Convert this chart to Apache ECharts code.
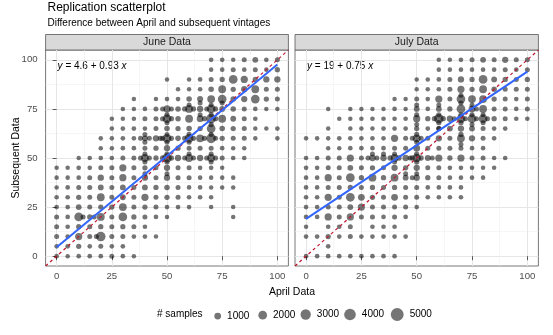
<!DOCTYPE html>
<html>
<head>
<meta charset="utf-8">
<script src="https://cdn.jsdelivr.net/npm/echarts@6/dist/echarts.min.js"></script>
<style>
  html, body { margin: 0; padding: 0; background: #ffffff; }
  #chart { width: 553px; height: 335px; }
</style>
</head>
<body>
<div id="chart"></div>
<script>
// ---- values ----------------------------------------------------------
const panelNames = ['June Data', 'July Data'];
const fitIntercepts = [4.6, 19];
const fitSlopes = [0.93, 0.75];
const majorTicks = [0, 25, 50, 75, 100];
const minorTicks = [12.5, 37.5, 62.5, 87.5];
const legendSamples = [1000, 2000, 3000, 4000, 5000];

// [April value, subsequent value, number of samples]
const juneSamples = [
  [70,100,200],[75,100,200],[80,100,150],[85,100,300],[90,100,600],[95,100,200],[100,100,300],
  [70,95,150],[75,95,200],[80,95,300],[85,95,200],[90,95,300],[95,95,150],[100,95,400],
  [50,90,150],[60,90,150],[65,90,200],[70,90,300],[75,90,400],[80,90,2000],[85,90,1200],[90,90,400],[95,90,800],[100,90,800],
  [55,85,150],[60,85,150],[65,85,200],[70,85,500],[75,85,1500],[80,85,400],[85,85,800],[90,85,1500],[95,85,300],[100,85,300],
  [35,80,150],[45,80,150],[50,80,200],[55,80,200],[60,80,500],[65,80,700],[70,80,1500],[75,80,2000],[80,80,500],[85,80,800],[90,80,2000],[95,80,400],[100,80,300],
  [30,75,150],[35,75,150],[40,75,200],[45,75,300],[50,75,1200],[55,75,500],[60,75,1500],[65,75,800],[70,75,2000],[75,75,600],[80,75,500],[85,75,300],[90,75,200],[95,75,150],[100,75,150],
  [25,70,150],[30,70,150],[35,70,150],[40,70,300],[45,70,300],[50,70,2000],[55,70,500],[60,70,1500],[65,70,1000],[70,70,2500],[75,70,1500],[80,70,600],[85,70,300],[90,70,200],
  [25,65,150],[30,65,200],[35,65,200],[40,65,200],[45,65,300],[50,65,500],[55,65,400],[60,65,500],[65,65,400],[70,65,2000],[75,65,500],[80,65,400],[85,65,300],[90,65,150],[95,65,150],[100,65,200],
  [20,60,150],[25,60,150],[30,60,200],[35,60,200],[40,60,600],[45,60,800],[50,60,2000],[55,60,500],[60,60,2000],[65,60,1500],[70,60,2500],[75,60,400],[80,60,300],[85,60,300],[90,60,150],[100,60,150],
  [20,55,150],[25,55,150],[30,55,200],[35,55,200],[40,55,300],[45,55,400],[50,55,800],[55,55,400],[60,55,300],[65,55,300],[70,55,300],[75,55,200],[80,55,150],[85,55,150],
  [10,50,150],[15,50,150],[20,50,200],[25,50,200],[30,50,300],[35,50,300],[40,50,1500],[45,50,400],[50,50,2500],[55,50,800],[60,50,1500],[65,50,800],[70,50,1500],[75,50,300],[80,50,200],[85,50,200],
  [0,45,150],[5,45,150],[10,45,200],[15,45,200],[20,45,300],[25,45,300],[30,45,1200],[35,45,300],[40,45,400],[45,45,300],[50,45,800],[55,45,300],[60,45,300],[65,45,200],[70,45,200],[75,45,150],
  [0,40,150],[5,40,150],[10,40,200],[15,40,300],[20,40,800],[25,40,300],[30,40,1200],[35,40,300],[40,40,800],[45,40,300],[50,40,800],[55,40,300],[60,40,300],[65,40,200],[70,40,150],[75,40,150],[80,40,150],
  [0,35,150],[5,35,200],[10,35,300],[15,35,300],[20,35,600],[25,35,300],[30,35,600],[35,35,300],[40,35,600],[45,35,400],[50,35,500],[55,35,300],[60,35,200],[65,35,200],[70,35,150],[75,35,150],[80,35,150],
  [0,30,200],[5,30,200],[10,30,400],[15,30,300],[20,30,1500],[25,30,300],[30,30,600],[35,30,300],[40,30,1200],[45,30,300],[50,30,400],[55,30,300],[60,30,200],[65,30,200],[70,30,150],
  [0,25,200],[5,25,200],[10,25,600],[15,25,300],[20,25,400],[25,25,400],[30,25,1500],[35,25,300],[40,25,400],[45,25,300],[50,25,200],[55,25,200],[60,25,200],[70,25,150],[80,25,150],
  [0,20,300],[5,20,200],[10,20,2000],[15,20,400],[20,20,1500],[25,20,300],[30,20,2000],[35,20,400],[40,20,300],[45,20,200],[50,20,150],[80,20,150],
  [0,15,300],[5,15,200],[10,15,400],[15,15,300],[20,15,400],[25,15,300],[30,15,400],[35,15,300],[40,15,200],
  [0,10,300],[5,10,200],[10,10,1200],[15,10,300],[20,10,2500],[25,10,300],[30,10,300],[35,10,200],[40,10,200],[45,10,150],
  [0,5,200],[5,5,200],[10,5,400],[15,5,200],[20,5,300],[25,5,200],[30,5,200],
  [0,0,200],[5,0,150],[10,0,200],[15,0,200],[20,0,200],[25,0,300],[30,0,200],[35,0,150],
  // off-grid responses around the busy cells
  [38,50,350],[42,50,350],[48,50,400],[52,50,400],[50,48,350],[50,52,350],[68,50,350],[72,50,350],[58,50,300],[62,50,300],
  [40,48,300],[40,52,300],[60,52,300],[70,52,300],[70,48,300],
  [48,60,350],[52,60,350],[50,62,300],[50,58,300],[42,60,300],[38,60,300],[47,60,350],[40,58,300],[40,62,300],
  [58,60,350],[62,60,350],[60,62,350],[60,58,300],
  [48,70,350],[52,70,400],[50,72,350],[50,68,300],
  [58,75,350],[62,75,350],[60,77,300],[52,75,300],[48,75,300],
  [67,70,400],[72,70,400],[70,67,350],[70,72,350],[65,72,300],[70,77,300],[72,75,350],[68,75,300],
  [67,60,350],[70,62,300],[72,60,300],
  [40,42,300],[50,42,300],[12,20,300],[17,20,300],[18,10,300],[65,78,300],[75,78,300]
];

const julySamples = [
  [60,100,150],[65,100,150],[70,100,200],[75,100,300],[80,100,600],[85,100,300],[90,100,800],[95,100,300],[100,100,300],
  [60,95,150],[65,95,150],[70,95,200],[75,95,200],[80,95,200],[85,95,200],[90,95,300],[95,95,200],[100,95,300],
  [50,90,150],[55,90,150],[60,90,200],[65,90,300],[70,90,800],[75,90,400],[80,90,2000],[85,90,600],[90,90,400],[95,90,300],[100,90,400],
  [50,85,150],[55,85,150],[60,85,200],[65,85,300],[70,85,1200],[75,85,400],[80,85,1500],[85,85,500],[90,85,300],[95,85,300],[100,85,300],
  [40,80,150],[45,80,150],[50,80,300],[55,80,200],[60,80,1200],[65,80,300],[70,80,2000],[75,80,1500],[80,80,1500],[85,80,400],[90,80,300],[95,80,200],[100,80,300],
  [10,75,150],[20,75,150],[25,75,150],[30,75,150],[35,75,150],[40,75,200],[45,75,150],[50,75,600],[55,75,200],[60,75,600],[65,75,400],[70,75,2000],[75,75,1000],[80,75,1500],[85,75,300],[90,75,300],[95,75,200],[100,75,300],
  [15,70,150],[20,70,150],[25,70,150],[30,70,200],[35,70,200],[40,70,200],[45,70,200],[50,70,1200],[55,70,400],[60,70,2500],[65,70,800],[70,70,2000],[75,70,2000],[80,70,2000],[85,70,400],[90,70,300],[95,70,200],[100,70,200],
  [10,65,150],[20,65,150],[25,65,150],[30,65,150],[35,65,200],[40,65,200],[45,65,200],[50,65,400],[55,65,200],[60,65,400],[65,65,600],[70,65,800],[75,65,600],[80,65,300],[85,65,200],[90,65,200],
  [0,60,150],[5,60,150],[10,60,150],[15,60,200],[20,60,200],[25,60,200],[30,60,200],[35,60,200],[40,60,1200],[45,60,300],[50,60,1500],[55,60,300],[60,60,800],[65,60,300],[70,60,1500],[75,60,800],[80,60,300],[85,60,200],
  [10,55,150],[15,55,150],[20,55,200],[25,55,200],[30,55,200],[35,55,200],[40,55,300],[45,55,300],[50,55,1000],[55,55,300],[60,55,300],[65,55,300],[70,55,300],[75,55,200],[80,55,200],
  [0,50,200],[5,50,200],[10,50,300],[15,50,300],[20,50,1200],[25,50,300],[30,50,800],[35,50,800],[40,50,1500],[45,50,800],[50,50,2000],[55,50,600],[60,50,1200],[65,50,400],[70,50,1200],[75,50,300],[80,50,300],[85,50,200],[90,50,200],
  [0,45,200],[5,45,200],[10,45,300],[15,45,300],[20,45,600],[25,45,300],[30,45,400],[35,45,300],[40,45,800],[45,45,400],[50,45,800],[55,45,300],[60,45,300],[65,45,200],[70,45,200],[75,45,200],[80,45,150],[85,45,150],
  [0,40,200],[5,40,200],[10,40,1200],[15,40,300],[20,40,2000],[25,40,400],[30,40,1500],[35,40,400],[40,40,1500],[45,40,600],[50,40,800],[55,40,400],[60,40,300],[65,40,200],[70,40,200],[75,40,200],[80,40,150],
  [0,35,200],[5,35,200],[10,35,300],[15,35,300],[20,35,400],[25,35,300],[30,35,400],[35,35,300],[40,35,400],[45,35,300],[50,35,300],[55,35,200],[60,35,200],[65,35,200],[70,35,200],
  [0,30,200],[5,30,200],[10,30,1200],[15,30,300],[20,30,2000],[25,30,1000],[30,30,400],[35,30,300],[40,30,1000],[45,30,300],[50,30,300],[55,30,200],[60,30,200],[65,30,200],[70,30,200],
  [0,25,200],[5,25,200],[10,25,300],[15,25,300],[20,25,600],[25,25,1200],[30,25,300],[35,25,300],[40,25,300],[45,25,300],[50,25,200],
  [0,20,200],[5,20,200],[10,20,1200],[15,20,300],[20,20,1200],[25,20,300],[30,20,300],[35,20,200],[40,20,300],[45,20,200],
  [0,15,150],[10,15,200],[15,15,200],[20,15,300],[30,15,200],[35,15,200],[40,15,200],
  [0,10,200],[5,10,200],[10,10,400],[15,10,200],[20,10,300],[25,10,200],[30,10,200],[35,10,200],[40,10,200],[45,10,200],
  [10,5,200],
  [0,0,200],[5,0,200],[10,0,200],[15,0,200],[20,0,200],[25,0,200],[30,0,200],[35,0,200],[40,0,200],
  // off-grid responses around the busy cells
  [28,50,300],[32,50,300],[30,52,300],[35,52,300],[38,50,400],[42,50,400],[40,52,300],[40,48,300],[48,50,400],[52,50,400],[50,48,400],[50,52,400],[57,50,300],[47,50,300],
  [48,60,300],[52,60,300],[50,62,350],[50,58,300],
  [50,72,350],[50,77,300],[50,67,300],
  [58,70,400],[62,70,400],[60,72,350],[60,68,350],[60,65,300],[60,77,300],
  [67,70,300],[70,72,400],[70,68,400],[72,70,300],[70,62,400],[70,57,300],
  [75,72,350],[77,70,300],[80,72,300],[82,70,300],[75,67,300],[80,68,300],[75,77,300],[77,75,300],
  [48,40,300],[50,42,300],[45,42,300],[70,78,300],[70,82,300]
];

const panelSamples = [juneSamples, julySamples];

// ---- styling ---------------------------------------------------------
const FONT = "'Liberation Sans', Arial, Helvetica, sans-serif";
const DOT = 'rgba(0,0,0,0.68)';
const AXIS_MIN = -5, AXIS_MAX = 105;
const grids = [
  { left: 45.6, top: 50, width: 242.8, height: 216 },
  { left: 295, top: 50, width: 243.4, height: 216 }
];

// point area grows with the number of samples
function dotSize(n) { return Math.sqrt(16 + 0.03 * n); }

const xAxes = [], yAxes = [], series = [], graphics = [];

grids.forEach(function (g, i) {
  // major axis carrying the data
  xAxes.push({
    type: 'value', gridIndex: i, min: AXIS_MIN, max: AXIS_MAX, position: 'bottom',
    axisLine: { show: false },
    axisTick: { show: true, length: 4, customValues: majorTicks, lineStyle: { color: '#333', width: 0.8 } },
    axisLabel: { customValues: majorTicks, fontSize: 9.6, fontFamily: FONT, color: '#4d4d4d', margin: 5 },
    splitLine: { show: true, lineStyle: { color: '#e6e6e6', width: 1 } }
  });
  // companion axis drawing the minor grid
  xAxes.push({
    type: 'value', gridIndex: i, min: AXIS_MIN, max: AXIS_MAX, position: 'top',
    axisLine: { show: false },
    axisTick: { show: false, customValues: minorTicks },
    axisLabel: { show: false, customValues: minorTicks },
    splitLine: { show: true, lineStyle: { color: '#f0f0f0', width: 0.6 } }
  });
  yAxes.push({
    type: 'value', gridIndex: i, min: AXIS_MIN, max: AXIS_MAX, position: 'left',
    axisLine: { show: false },
    axisTick: { show: i === 0, length: 4, customValues: majorTicks, lineStyle: { color: '#333', width: 0.8 } },
    axisLabel: { show: i === 0, customValues: majorTicks, fontSize: 9.6, fontFamily: FONT, color: '#4d4d4d', margin: 8 },
    splitLine: { show: true, lineStyle: { color: '#e6e6e6', width: 1 } }
  });
  yAxes.push({
    type: 'value', gridIndex: i, min: AXIS_MIN, max: AXIS_MAX, position: 'right',
    axisLine: { show: false },
    axisTick: { show: false, customValues: minorTicks },
    axisLabel: { show: false, customValues: minorTicks },
    splitLine: { show: true, lineStyle: { color: '#f0f0f0', width: 0.6 } }
  });

  const pts = panelSamples[i];
  series.push({
    type: 'scatter', xAxisIndex: 2 * i, yAxisIndex: 2 * i, silent: true, z: 2,
    data: pts.map(function (p) { return [p[0], p[1], p[2]]; }),
    symbolSize: function (v) { return dotSize(v[2]); },
    itemStyle: { color: DOT, borderWidth: 0 }
  });

  // identity reference
  series.push({
    type: 'line', xAxisIndex: 2 * i, yAxisIndex: 2 * i, silent: true, z: 3,
    symbol: 'none', data: [[AXIS_MIN, AXIS_MIN], [AXIS_MAX, AXIS_MAX]],
    lineStyle: { color: '#c0142c', width: 1.2, type: [3, 3] }
  });

  // least-squares fit over the observed April range
  const xs = pts.map(function (p) { return p[0]; });
  const xLo = Math.min.apply(null, xs), xHi = Math.max.apply(null, xs);
  const a = fitIntercepts[i], b = fitSlopes[i];
  series.push({
    type: 'line', xAxisIndex: 2 * i, yAxisIndex: 2 * i, silent: true, z: 4,
    symbol: 'none', data: [[xLo, a + b * xLo], [xHi, a + b * xHi]],
    lineStyle: { color: '#3366FF', width: 2 }
  });

  // facet strip
  graphics.push({
    type: 'rect', silent: true,
    shape: { x: g.left, y: 34.5, width: g.width, height: 15.5 },
    style: { fill: '#d9d9d9', stroke: '#555', lineWidth: 0.8 }
  });
  graphics.push({
    type: 'text', silent: true, x: g.left + g.width / 2, y: 42.5,
    style: { text: panelNames[i], fontSize: 10.5, fontFamily: FONT, fill: '#1a1a1a', align: 'center', verticalAlign: 'middle' }
  });

  // fitted equation
  graphics.push({
    type: 'text', silent: true, x: g.left + 12, y: 66.5,
    style: {
      text: '{i|y} = ' + a + ' + ' + b + ' {i|x}',
      fontSize: 10, fontFamily: FONT, fill: '#000', verticalAlign: 'middle',
      rich: { i: { fontStyle: 'italic', fontSize: 10, fontFamily: FONT, fill: '#000' } }
    }
  });
});

// titles
graphics.push({
  type: 'text', silent: true, x: 47.5, y: 7.5,
  style: { text: 'Replication scatterplot', fontSize: 12, fontFamily: FONT, fill: '#000', verticalAlign: 'middle' }
});
graphics.push({
  type: 'text', silent: true, x: 47.5, y: 23.5,
  style: { text: 'Difference between April and subsequent vintages', fontSize: 10, fontFamily: FONT, fill: '#000', verticalAlign: 'middle' }
});
graphics.push({
  type: 'text', silent: true, x: 292, y: 292.5,
  style: { text: 'April Data', fontSize: 10.5, fontFamily: FONT, fill: '#000', align: 'center', verticalAlign: 'middle' }
});
graphics.push({
  type: 'text', silent: true, x: 16.5, y: 158, rotation: Math.PI / 2,
  style: { text: 'Subsequent Data', fontSize: 10.5, fontFamily: FONT, fill: '#000', align: 'center', verticalAlign: 'middle' }
});
graphics.push({
  type: 'text', silent: true, x: 157, y: 314.5,
  style: { text: '# samples', fontSize: 10, fontFamily: FONT, fill: '#000', verticalAlign: 'middle' }
});

// size legend: one legend block per key so each key keeps its own circle size
const legendCenters = [217.7, 262.7, 305.7, 350, 397.2];
const legends = legendSamples.map(function (n, k) {
  const d = dotSize(n);
  series.push({ type: 'scatter', name: String(n), data: [], itemStyle: { color: DOT } });
  return {
    data: [String(n)], left: legendCenters[k] - d / 2, top: 314.5 - d / 2,
    itemWidth: d, itemHeight: d, icon: 'circle', selectedMode: false,
    padding: 0, itemGap: 0,
    textStyle: { fontSize: 10, fontFamily: FONT, color: '#000', padding: [0, 0, 0, 1] }
  };
});

const chart = echarts.init(document.getElementById('chart'), null, { renderer: 'canvas' });
chart.setOption({
  animation: false,
  backgroundColor: '#ffffff',
  grid: grids.map(function (g) {
    return { left: g.left, top: g.top, width: g.width, height: g.height, show: true,
             backgroundColor: '#ffffff', borderColor: '#555', borderWidth: 0.8 };
  }),
  xAxis: xAxes,
  yAxis: yAxes,
  legend: legends,
  series: series,
  graphic: graphics
});
</script>
</body>
</html>
